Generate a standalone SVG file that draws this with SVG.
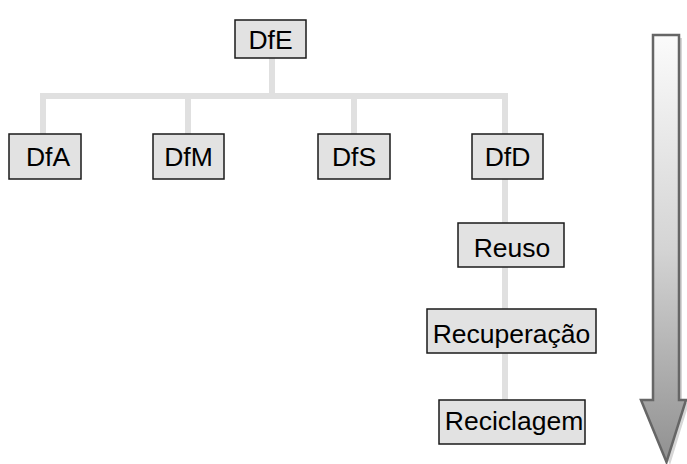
<svg xmlns="http://www.w3.org/2000/svg" width="687" height="464" viewBox="0 0 687 464">
<style>
.box{fill:#e2e2e2;stroke:#1a1a1a;stroke-width:1.5}
.lbl{font-family:"Liberation Sans",Arial,sans-serif;font-size:26.5px;fill:#000;text-anchor:middle}
.conn{fill:none;stroke:#e0e0e0;stroke-width:6;stroke-linecap:butt;stroke-linejoin:miter}
</style>
<defs>
<linearGradient id="ag" gradientUnits="userSpaceOnUse" x1="0" y1="35" x2="0" y2="463">
<stop offset="0" stop-color="#fbfbfb"/>
<stop offset="0.5" stop-color="#d4d4d4"/>
<stop offset="1" stop-color="#909090"/>
</linearGradient>
</defs>
<rect width="687" height="464" fill="#fff"/>
<g id="connectors">
<path class="conn" d="M272 58 V96"/>
<path class="conn" d="M43 134 V96 H505 V134"/>
<path class="conn" d="M188 96 V134"/>
<path class="conn" d="M354 96 V134"/>
<path class="conn" d="M505 179 V400"/>
</g>
<g id="DfE"><rect class="box" x="235" y="20" width="71" height="38"/><text class="lbl" x="270.5" y="49">DfE</text></g>
<g id="DfA"><rect class="box" x="9" y="134" width="72" height="45"/><text class="lbl" x="48" y="166">DfA</text></g>
<g id="DfM"><rect class="box" x="153" y="134" width="71" height="45"/><text class="lbl" x="188.5" y="166">DfM</text></g>
<g id="DfS"><rect class="box" x="318" y="134" width="72" height="45"/><text class="lbl" x="354" y="166">DfS</text></g>
<g id="DfD"><rect class="box" x="472" y="134" width="71" height="45"/><text class="lbl" x="507.5" y="166">DfD</text></g>
<g id="Reuso"><rect class="box" x="458" y="223" width="106" height="44"/><text class="lbl" x="512" y="257">Reuso</text></g>
<g id="Recuperacao"><rect class="box" x="427" y="309" width="169" height="44"/><text class="lbl" x="511.5" y="343">Recuperação</text></g>
<g id="Reciclagem"><rect class="box" x="439" y="400" width="146" height="44"/><text class="lbl" x="514" y="430">Reciclagem</text></g>
<g id="arrow">
<path d="M656 38 H682 V403 H689 L670 465 L643 403 H656 Z" fill="#d6d6d6"/>
<path d="M653 35 H679 V400 H686 L666.5 462 L641 400 H653 Z" fill="url(#ag)" stroke="#666" stroke-width="2.5" stroke-linejoin="miter"/>
</g>
</svg>
